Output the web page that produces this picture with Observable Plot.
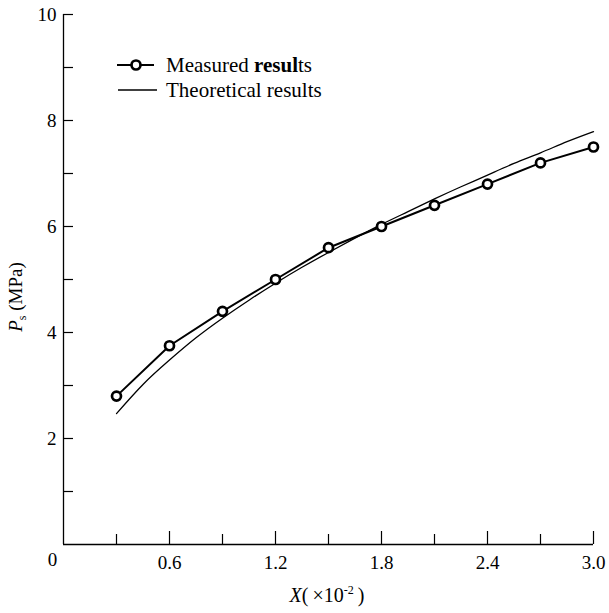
<!DOCTYPE html>
<html>
<head>
<meta charset="utf-8">
<script src="https://cdn.jsdelivr.net/npm/d3@7"></script>
<script src="https://cdn.jsdelivr.net/npm/@observablehq/plot@0.6"></script>
<style>
  html, body { margin: 0; padding: 0; background: #fff; }
  #chart svg { display: block; }
</style>
</head>
<body>
<div id="chart"></div>
<script>
// Measured results
const xMeasured = [0.3, 0.6, 0.9, 1.2, 1.5, 1.8, 2.1, 2.4, 2.7, 3.0];
const yMeasured = [2.8, 3.75, 4.4, 5.0, 5.6, 6.0, 6.4, 6.8, 7.2, 7.5];
// Theoretical results
const xTheory = [0.3, 0.45, 0.6, 0.75, 0.9, 1.05, 1.2, 1.35, 1.5, 1.65, 1.8, 1.95, 2.1, 2.25, 2.4, 2.55, 2.7, 2.85, 3.0];
const yTheory = [2.47, 3.02, 3.48, 3.9, 4.27, 4.61, 4.93, 5.23, 5.51, 5.78, 6.04, 6.28, 6.52, 6.75, 6.97, 7.19, 7.39, 7.6, 7.79];
// Ticks
const yTickValues = [1, 2, 3, 4, 5, 6, 7, 8, 9, 10];
const yLabelValues = [2, 4, 6, 8, 10];
const xMinorTicks = [0.3, 0.9, 1.5, 2.1, 2.7];
const xMajorTicks = [0.6, 1.2, 1.8, 2.4, 3.0];
const xLabelValues = ["0.6", "1.2", "1.8", "2.4", "3.0"];
const originLabel = ["0"];

const measured = xMeasured.map((x, i) => ({x, y: yMeasured[i]}));
const theory = xTheory.map((x, i) => ({x, y: yTheory[i]}));

const font = "'Liberation Serif', 'DejaVu Serif', serif";

const plot = Plot.plot({
  width: 609,
  height: 613,
  marginLeft: 63,
  marginRight: 16,
  marginTop: 14,
  marginBottom: 69,
  x: {domain: [0, 3]},
  y: {domain: [0, 10]},
  style: {fontFamily: font, fontSize: "19px", color: "#000", background: "#fff"},
  marks: [
    // ticks pointing inward
    Plot.axisY(yTickValues, {anchor: "left", tickSize: -10, tickFormat: () => "", label: null, strokeWidth: 1.2}),
    Plot.axisY(yLabelValues, {anchor: "left", tickSize: 0, tickPadding: 7, label: null, fontSize: 19, tickFormat: d => String(d)}),
    Plot.axisX(xMinorTicks, {anchor: "bottom", tickSize: -10, tickFormat: () => "", label: null, strokeWidth: 1.2}),
    Plot.axisX(xMajorTicks, {anchor: "bottom", tickSize: -13, tickFormat: () => "", label: null, strokeWidth: 1.2}),
    Plot.axisX(xMajorTicks, {anchor: "bottom", tickSize: 0, tickPadding: 11, label: null, fontSize: 19, tickFormat: (d, i) => xLabelValues[i]}),
    Plot.text(originLabel, {x: 0, y: 0, text: d => d, dx: -11, dy: 15, fontSize: 19}),
    // axis lines
    Plot.ruleX([0], {stroke: "#000", strokeWidth: 1.3}),
    Plot.ruleY([0], {stroke: "#000", strokeWidth: 1.3}),
    // theoretical curve
    Plot.line(theory, {x: "x", y: "y", stroke: "#000", strokeWidth: 1.3, curve: "natural"}),
    // measured
    Plot.line(measured, {x: "x", y: "y", stroke: "#000", strokeWidth: 2}),
    Plot.dot(measured, {x: "x", y: "y", r: 4.5, stroke: "#000", strokeWidth: 2.7, fill: "#fff"})
  ]
});

document.getElementById("chart").appendChild(plot);

const svg = d3.select(plot);

// Legend
const lg = svg.append("g").attr("font-family", font).attr("font-size", 21).attr("fill", "#000").attr("text-anchor", "start");
lg.append("line").attr("x1", 117).attr("x2", 154).attr("y1", 65).attr("y2", 65).attr("stroke", "#000").attr("stroke-width", 2);
lg.append("circle").attr("cx", 136).attr("cy", 65).attr("r", 4.5).attr("fill", "#fff").attr("stroke", "#000").attr("stroke-width", 2.7);
const t1 = lg.append("text").attr("x", 166).attr("y", 65).attr("dy", "0.35em").attr("text-anchor", "start");
t1.append("tspan").text("Measured ");
t1.append("tspan").attr("font-weight", "bold").text("resul");
t1.append("tspan").text("ts");
lg.append("line").attr("x1", 118).attr("x2", 157).attr("y1", 90).attr("y2", 90).attr("stroke", "#000").attr("stroke-width", 1.3);
lg.append("text").attr("x", 166).attr("y", 90).attr("dy", "0.35em").attr("text-anchor", "start").text("Theoretical results");

// X axis title
const xt = svg.append("text").attr("x", 327).attr("y", 602).attr("text-anchor", "middle")
  .attr("font-family", font).attr("font-size", 20).attr("fill", "#000");
xt.append("tspan").attr("font-style", "italic").text("X");
xt.append("tspan").text("(\u2009×10");
xt.append("tspan").attr("font-size", 12).attr("dy", -8).text("-2");
xt.append("tspan").attr("dy", 8).text("\u2009)");

// Y axis title
const yt = svg.append("text").attr("transform", "translate(22,297) rotate(-90)").attr("text-anchor", "middle")
  .attr("font-family", font).attr("font-size", 19).attr("fill", "#000");
yt.append("tspan").attr("font-style", "italic").text("P");
yt.append("tspan").attr("font-size", 12).attr("dy", 4).text("s");
yt.append("tspan").attr("dy", -4).text(" (MPa)");
</script>
</body>
</html>
